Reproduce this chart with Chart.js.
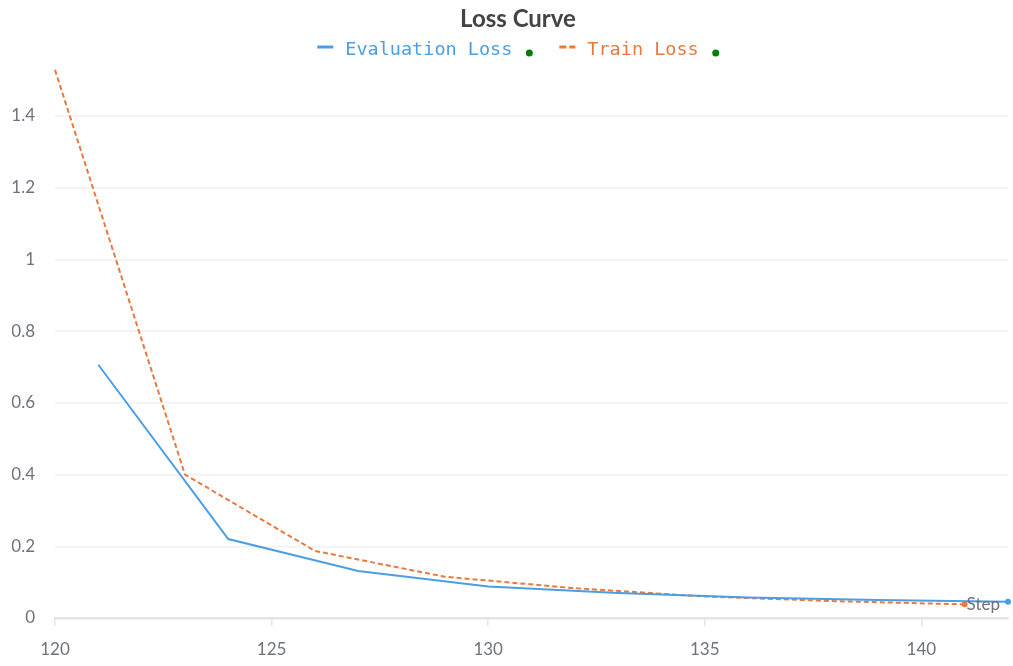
<!DOCTYPE html>
<html>
<head>
<meta charset="utf-8">
<script src="https://cdn.jsdelivr.net/npm/chart.js@4.4.0/dist/chart.umd.min.js"></script>
<style>
  html, body { margin: 0; padding: 0; background: #fff; }
  #wrap { width: 1013px; height: 666px; }
</style>
</head>
<body>
<div id="wrap"><canvas id="lossChart"></canvas></div>
<script>
// values
const evalSteps = [121, 124, 127, 130, 133, 136, 139, 142];
const evalLoss = [0.706, 0.220, 0.131, 0.088, 0.070, 0.057, 0.050, 0.045];
const trainSteps = [120, 123, 126, 129, 132, 135, 138, 141];
const trainLoss = [1.528, 0.400, 0.187, 0.115, 0.083, 0.060, 0.047, 0.038];
const xTicks = [120, 125, 130, 135, 140];
const yTicks = [0, 0.2, 0.4, 0.6, 0.8, 1, 1.2, 1.4];

const blue = '#4c9ee3';
const orange = '#e9793c';
const gray = '#6f717c';

const toPoints = (xs, ys) => xs.map((x, i) => ({x: x, y: ys[i]}));
const lastOnly = arr => arr.map((_, i) => i === arr.length - 1 ? 3 : 0);

// title + legend with green dots, and the "Step" label at axis end
const decorations = {
  id: 'decorations',
  afterDraw(chart) {
    const ctx = chart.ctx;
    const area = chart.chartArea;
    const cx = 518;
    ctx.save();
    ctx.fillStyle = '#444';
    ctx.font = 'bold 24px Lato';
    ctx.textAlign = 'center';
    ctx.textBaseline = 'middle';
    ctx.fillText('Loss Curve', cx, 19);

    ctx.font = '18.5px "DejaVu Sans Mono"';
    const items = [
      {text: 'Evaluation Loss', color: blue, dash: []},
      {text: 'Train Loss', color: orange, dash: [7, 3]}
    ];
    const markW = 16, gap1 = 12, gap2 = 17, gapItem = 27;
    let total = 0;
    items.forEach((it, i) => {
      it.w = ctx.measureText(it.text).width;
      total += markW + gap1 + it.w + gap2 + 3 + (i < items.length - 1 ? gapItem : 0);
    });
    let x = cx - total / 2;
    const y = 50;
    ctx.textAlign = 'left';
    items.forEach(it => {
      ctx.strokeStyle = it.color;
      ctx.lineWidth = 3;
      ctx.setLineDash(it.dash);
      ctx.beginPath();
      ctx.moveTo(x, y - 3);
      ctx.lineTo(x + markW, y - 3);
      ctx.stroke();
      ctx.setLineDash([]);
      x += markW + gap1;
      ctx.fillStyle = it.color;
      ctx.fillText(it.text, x, y);
      x += it.w + gap2;
      ctx.fillStyle = 'green';
      ctx.beginPath();
      ctx.arc(x, y + 3, 3.5, 0, Math.PI * 2);
      ctx.fill();
      x += 3 + gapItem;
    });

    ctx.fillStyle = gray;
    ctx.font = '17px Lato';
    ctx.textAlign = 'right';
    ctx.fillText('Step', area.right - 8, area.bottom - 13);
    ctx.restore();
  }
};

new Chart(document.getElementById('lossChart'), {
  type: 'line',
  data: {
    datasets: [
      {
        label: 'Evaluation Loss',
        data: toPoints(evalSteps, evalLoss),
        borderColor: blue,
        backgroundColor: blue,
        borderWidth: 2,
        pointRadius: lastOnly(evalLoss),
        pointBorderWidth: 0,
        tension: 0,
        clip: false
      },
      {
        label: 'Train Loss',
        data: toPoints(trainSteps, trainLoss),
        borderColor: orange,
        backgroundColor: orange,
        borderWidth: 2,
        borderDash: [5, 3],
        pointRadius: lastOnly(trainLoss),
        pointBorderWidth: 0,
        tension: 0,
        clip: false
      }
    ]
  },
  options: {
    responsive: true,
    maintainAspectRatio: false,
    animation: false,
    layout: { padding: { top: 62, left: 12, right: 5, bottom: 8 } },
    plugins: {
      legend: { display: false },
      title: { display: false },
      tooltip: { enabled: false }
    },
    scales: {
      x: {
        type: 'linear',
        min: 120,
        max: 142,
        afterBuildTicks: axis => { axis.ticks = xTicks.map(v => ({value: v})); },
        afterFit: axis => { axis.height = 40; },
        grid: { drawOnChartArea: false, drawTicks: true, tickLength: 8, color: '#e4e4e4', lineWidth: 1.5 },
        border: { display: true, color: '#e4e4e4', width: 2.5 },
        ticks: { color: gray, font: { family: 'Lato', size: 17 }, padding: 13, maxRotation: 0 }
      },
      y: {
        min: 0,
        max: 1.55,
        afterBuildTicks: axis => { axis.ticks = yTicks.map(v => ({value: v})); },
        afterFit: axis => { axis.width = 43; },
        grid: { drawTicks: false, color: '#f1f1f1', lineWidth: 1.5 },
        border: { display: false },
        ticks: {
          color: gray,
          font: { family: 'Lato', size: 17 },
          padding: 20,
          callback: v => String(+v.toFixed(1))
        }
      }
    }
  },
  plugins: [decorations]
});
</script>
</body>
</html>
